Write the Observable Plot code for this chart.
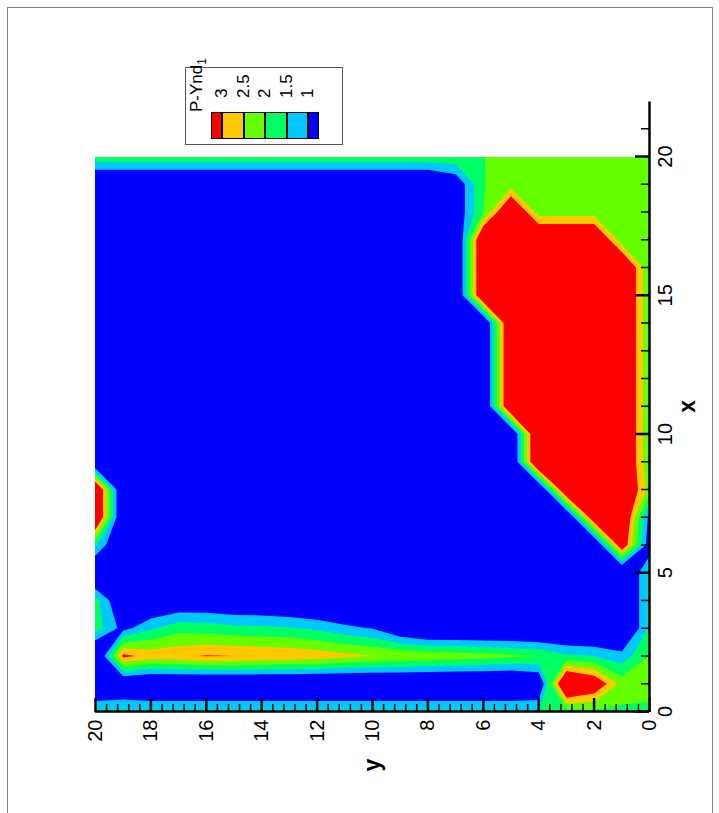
<!DOCTYPE html>
<html><head><meta charset="utf-8">
<script src="https://cdn.jsdelivr.net/npm/d3@7"></script>
<script src="https://cdn.jsdelivr.net/npm/@observablehq/plot@0.6"></script>
<style>
html,body{margin:0;padding:0;background:#fff;overflow:hidden;}
body{width:719px;height:813px;position:relative;}
#fig{position:absolute;left:0;top:0;width:813px;height:719px;transform-origin:0 0;transform:translate(0px,813px) rotate(-90deg);font-family:"Liberation Sans",Arial,Helvetica,sans-serif;background:#fff;}
#border{position:absolute;left:-10px;top:7px;width:816px;height:706px;border:1.5px solid #808080;box-sizing:border-box;}
#plot{position:absolute;left:0;top:0;width:813px;height:719px;}
#plot svg{position:absolute;left:0;top:0;}
.abs{position:absolute;}
</style></head>
<body><div id="fig"><div id="border"></div><div id="plot"></div><div id="legend"></div></div>
<script>
// grid nodes
const xNodes = [0,1,2,3,4,5,6,7,8,9,10,11,12,13,14,15,16,17,18,19,20];
const yNodes = [0,1,2,3,4,5,6,7,8,9,10,11,12,13,14,15,16,17,18,19,20];
// P-Ynd1 values, one array per x node, listed over y = 0..20
const zX0  = [1.89,1.9,1.9,1.8,1.5,1.6,1.6,1.6,1.6,1.6,1.6,1.6,1.6,1.6,1.6,1.6,1.6,1.6,1.6,1.6,1.6];
const zX1  = [2.2,2.3,3.6,4.2,0.3,0,0,0,0,0,0,0,0,0,0,0,0,0,0,0.2,0];
const zX2  = [2.0,1.2,1.5,1.6,2.0,2.1,2.2,2.28,2.35,2.45,2.52,2.65,2.8,2.9,2.95,3.0,3.04,2.9,2.82,3.15,0];
const zX3  = [1.6,0,0,0,0,0.05,0.05,0.05,0.05,0.35,0.97,1.15,1.4,1.55,1.6,1.65,1.75,1.8,1.43,0.8,1.75];
const zX4  = [1.6,0,0,0,0,0,0,0,0,0,0,0,0.1,0.2,0.3,0.3,0.4,0.4,0.2,0.3,1.7];
const zX5  = [1.6,0,0,0,0,0,0,0,0,0,0,0,0,0,0,0,0,0,0,0,0];
const zX6  = [0.6,3.6,0,0,0,0,0,0,0,0,0,0,0,0,0,0,0,0,0,0,1.6];
const zX7  = [0.8,4,3.7,0,0,0,0,0,0,0,0,0,0,0,0,0,0,0,0,0,4.1];
const zX8  = [2.3,4,4,4,0,0,0,0,0,0,0,0,0,0,0,0,0,0,0,0,4.1];
const zX9  = [2.05,4,4,4,4.3,0,0,0,0,0,0,0,0,0,0,0,0,0,0,0,0];
const zX10 = [2.05,4,4,4,4.3,0,0,0,0,0,0,0,0,0,0,0,0,0,0,0,0];
const zX11 = [2.05,4,4,4,4,4.1,0,0,0,0,0,0,0,0,0,0,0,0,0,0,0];
const zX12 = [2.05,4,4,4,4,4.1,0,0,0,0,0,0,0,0,0,0,0,0,0,0,0];
const zX13 = [2.05,4,4,4,4,4.1,0,0,0,0,0,0,0,0,0,0,0,0,0,0,0];
const zX14 = [2.05,4,4,4,4,4.1,0,0,0,0,0,0,0,0,0,0,0,0,0,0,0];
const zX15 = [2.05,4,4,4,4,4,4,0,0,0,0,0,0,0,0,0,0,0,0,0,0];
const zX16 = [2.05,4,4,4,4,4,4,0,0,0,0,0,0,0,0,0,0,0,0,0,0];
const zX17 = [2.1,2.2,4,4,4,4,4,0,0,0,0,0,0,0,0,0,0,0,0,0,0];
const zX18 = [2.25,2.25,2.25,2.25,2.25,4,1.98,0.5,0,0,0,0,0,0,0,0,0,0,0,0,0];
const zX19 = [2.25,2.25,2.25,2.25,2.25,2.25,1.98,0.5,0,0,0,0,0,0,0,0,0,0,0,0,0];
const zX20 = [2.25,2.25,2.25,2.25,2.25,2.25,1.98,1.9,1.9,1.9,1.9,1.9,1.9,1.9,1.9,1.9,1.9,1.9,1.9,1.9,1.9];

// contour levels and colours
const levels = [1, 1.5, 2, 2.5, 3];
const levelColors = ["#0000ff", "#00c8ff", "#00ff64", "#64ff00", "#ffc800", "#ff0000"];
const legendLabels = ["3", "2.5", "2", "1.5", "1"];
const legendTitle = "P-Ynd";
const legendSub = "1";

// axes ticks
const xMajor = [0, 5, 10, 15, 20];
const xMinor = [1,2,3,4,6,7,8,9,11,12,13,14,16,17,18,19,21];
const yMajor = [0, 2, 4, 6, 8, 10, 12, 14, 16, 18, 20];
const yMinor = d3.range(0, 20.001, 0.4).filter(v => Math.abs(v/2 - Math.round(v/2)) > 1e-6);

const rows = [zX0,zX1,zX2,zX3,zX4,zX5,zX6,zX7,zX8,zX9,zX10,zX11,zX12,zX13,zX14,zX15,zX16,zX17,zX18,zX19,zX20];
const nx = xNodes.length, ny = yNodes.length;
const grid = new Array(nx * ny);
rows.forEach((row, ix) => row.forEach((z, iy) => { grid[iy * nx + ix] = z; }));
const dxN = xNodes[1] - xNodes[0], dyN = yNodes[1] - yNodes[0];

const W = 813, H = 719, mL = 101, mT = 95, mB = 70;
const pxPerUnit = 27.75;
const font = '"Liberation Sans", Arial, Helvetica, sans-serif';
const colorScale = {type: "threshold", domain: levels, range: levelColors};

// layer 1: the flooded contour field, clipped to the data extent
const fieldChart = Plot.plot({
  width: W, height: H,
  marginLeft: mL, marginRight: W - mL - 20 * pxPerUnit, marginTop: mT, marginBottom: mB,
  x: {domain: [xNodes[0], xNodes[nx - 1]], axis: null},
  y: {domain: [yNodes[0], yNodes[ny - 1]], axis: null},
  color: colorScale,
  style: {background: "transparent"},
  marks: [
    Plot.contour(grid, {width: nx, height: ny,
      x1: xNodes[0] - dxN / 2, x2: xNodes[nx - 1] + dxN / 2,
      y1: yNodes[0] - dyN / 2, y2: yNodes[ny - 1] + dyN / 2,
      fill: Plot.identity, thresholds: [-1, ...levels], stroke: "none", clip: true})
  ]
});

// layer 2: axes
const mR = W - mL - 22 * pxPerUnit;
const PW = W - mL - mR, PH = H - mT - mB;
const axesChart = Plot.plot({
  width: W, height: H,
  marginLeft: mL, marginRight: mR, marginTop: mT, marginBottom: mB,
  x: {domain: [0, 22], axis: null},
  y: {domain: [0, 20], axis: null},
  style: {fontFamily: font, background: "transparent", overflow: "visible"},
  marks: [
    Plot.tickX(xMinor, {x: d => d, insetTop: PH - 8, stroke: "black", strokeWidth: 1.5}),
    Plot.tickX(xMajor, {x: d => d, insetTop: PH - 14, stroke: "black", strokeWidth: 2.5}),
    Plot.tickY(yMinor, {y: d => d, insetRight: PW - 8, stroke: "black", strokeWidth: 1.5}),
    Plot.tickY(yMajor, {y: d => d, insetRight: PW - 14, stroke: "black", strokeWidth: 2.5}),
    Plot.ruleY([0], {stroke: "black", strokeWidth: 2.5}),
    Plot.ruleX([0], {stroke: "black", strokeWidth: 2.5}),
    Plot.text(xMajor, {x: d => d, text: d => String(d), frameAnchor: "bottom", lineAnchor: "top", dy: 8, fontSize: 20, fill: "black"}),
    Plot.text(yMajor, {y: d => d, text: d => String(d), frameAnchor: "left", textAnchor: "end", dx: -8, fontSize: 20, fill: "black"}),
    Plot.text(["x"], {text: d => d, frameAnchor: "bottom", dy: 45, fontSize: 23, fontWeight: "bold", fill: "black"}),
    Plot.text(["y"], {text: d => d, frameAnchor: "left", dx: -60, fontSize: 23, fontWeight: "bold", fill: "black"})
  ]
});
const host = document.getElementById("plot");
host.appendChild(fieldChart);
host.appendChild(axesChart);

// legend (Tecplot-style box)
const lg = document.getElementById("legend");
function add(css, html) { const d = document.createElement("div"); d.className = "abs"; d.style.cssText = css; if (html != null) d.innerHTML = html; lg.appendChild(d); return d; }
add("left:668px;top:185px;width:78px;height:158px;border:1px solid #555;box-sizing:border-box;background:#fff;");
const swL = 674, swW = 27, top0 = 211, step = 21.5, half = 11;
const bounds = [top0, top0 + half];
for (let k = 1; k < legendLabels.length; k++) bounds.push(top0 + half + k * step);
bounds.push(bounds[bounds.length - 1] + half);
const swatchColors = levelColors.slice().reverse();
for (let k = 0; k < swatchColors.length; k++) {
  add(`left:${swL}px;top:${bounds[k]}px;width:${swW}px;height:${bounds[k+1]-bounds[k]}px;background:${swatchColors[k]};border:1px solid #000;box-sizing:border-box;`);
}
legendLabels.forEach((t, k) => {
  add(`left:715px;top:${bounds[k+1]-10}px;font-size:17px;line-height:20px;color:#000;white-space:nowrap;`, t);
});
add(`left:701px;top:187px;font-size:17px;line-height:20px;color:#000;white-space:nowrap;`, `${legendTitle}<sub style="font-size:12px">${legendSub}</sub>`);
</script>
</body></html>
